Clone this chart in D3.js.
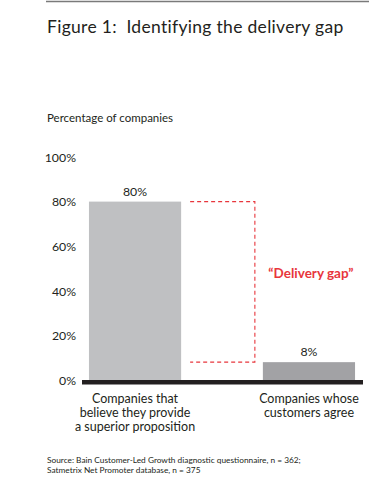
<!DOCTYPE html>
<html>
<head>
<meta charset="utf-8">
<script src="https://cdn.jsdelivr.net/npm/d3@7"></script>
<style>
  body { margin: 0; background: #fff; }
  text { font-family: Lato, "Open Sans", sans-serif; fill: #231f20; }
</style>
</head>
<body>
<div id="chart"></div>
<script>
// data
var categories = ["Companies that believe they provide a superior proposition", "Companies whose customers agree"]
var catLines = [["Companies that", "believe they provide", "a superior proposition"], ["Companies whose", "customers agree"]]
var values = [80, 8]
var barColors = ["#bfc0c2", "#a2a2a5"]
var yTicks = [0, 20, 40, 60, 80, 100]

var W = 381, H = 480

var svg = d3.select("#chart")
  .append("svg")
    .attr("width", W)
    .attr("height", H)

// scales
var x = d3.scaleBand()
  .domain(categories)
  .range([82, 362])
  .paddingInner(0.47)
  .paddingOuter(0.04)

var y = d3.scaleLinear()
  .domain([0, 100])
  .range([380, 157])

// top rule + title
svg.append("line")
  .attr("x1", 46).attr("x2", 369)
  .attr("y1", 1.5).attr("y2", 1.5)
  .attr("stroke", "#7a7a7a")
  .attr("stroke-width", 1.5)

svg.append("text")
  .attr("x", 47).attr("y", 32.5)
  .style("font-size", "17.5px")
  .style("letter-spacing", "0.3px")
  .attr("xml:space", "preserve")
  .text("Figure 1:  Identifying the delivery gap")

svg.append("text")
  .attr("x", 47).attr("y", 122)
  .style("font-size", "11.5px")
  .text("Percentage of companies")

// y axis labels (no line)
var yAxis = svg.append("g")
  .attr("transform", "translate(76,0)")
  .call(d3.axisLeft(y).tickValues(yTicks).tickSize(0).tickPadding(0)
    .tickFormat(function(d) { return d + "%"; }))
yAxis.select(".domain").remove()
yAxis.selectAll("text")
  .style("font-family", "Lato, sans-serif")
  .style("font-size", "12.3px")
  .attr("fill", "#231f20")
  .attr("dy", "0.35em")

// bars
svg.selectAll("rect.bar")
  .data(values)
  .enter()
  .append("rect")
    .attr("class", "bar")
    .attr("x", function(d, i) { return x(categories[i]); })
    .attr("y", function(d) { return y(d); })
    .attr("width", x.bandwidth())
    .attr("height", function(d) { return y(0) - y(d); })
    .attr("fill", function(d, i) { return barColors[i]; })

// value labels
svg.selectAll("text.val")
  .data(values)
  .enter()
  .append("text")
    .attr("class", "val")
    .attr("x", function(d, i) { return x(categories[i]) + x.bandwidth() / 2; })
    .attr("y", function(d) { return y(d) - 6; })
    .attr("text-anchor", "middle")
    .style("font-size", "12.3px")
    .text(function(d) { return d + "%"; })

// baseline
svg.append("rect")
  .attr("x", 82).attr("y", y(0))
  .attr("width", 281).attr("height", 4.5)
  .attr("fill", "#231f20")

// delivery gap dashed bracket
var gx0 = x(categories[0]) + x.bandwidth() + 9
var gx1 = x(categories[1]) - 8
svg.append("path")
  .attr("d", "M" + gx0 + "," + y(values[0]) + "H" + gx1 + "V" + y(values[1]) + "H" + gx0)
  .attr("fill", "none")
  .attr("stroke", "#e8363c")
  .attr("stroke-width", 1.1)
  .attr("stroke-dasharray", "4,3")

svg.append("text")
  .attr("x", x(categories[1]) + x.bandwidth() / 2 + 2)
  .attr("y", 278)
  .attr("text-anchor", "middle")
  .style("font-size", "13.5px")
  .style("font-weight", "bold")
  .style("fill", "#e8363c")
  .text("\u201cDelivery gap\u201d")

// category labels
catLines.forEach(function(lines, i) {
  var t = svg.append("text")
    .attr("text-anchor", "middle")
    .style("font-size", "12.5px")
  lines.forEach(function(l, j) {
    t.append("tspan")
      .attr("x", x(categories[i]) + x.bandwidth() / 2)
      .attr("y", 402.5 + j * 14)
      .text(l)
  })
})

// source
var src = svg.append("text").style("font-size", "8.3px")
src.append("tspan").attr("x", 47).attr("y", 463).text("Source: Bain Customer-Led Growth diagnostic questionnaire, n = 362;")
src.append("tspan").attr("x", 47).attr("y", 473).text("Satmetrix Net Promoter database, n = 375")
</script>
</body>
</html>
